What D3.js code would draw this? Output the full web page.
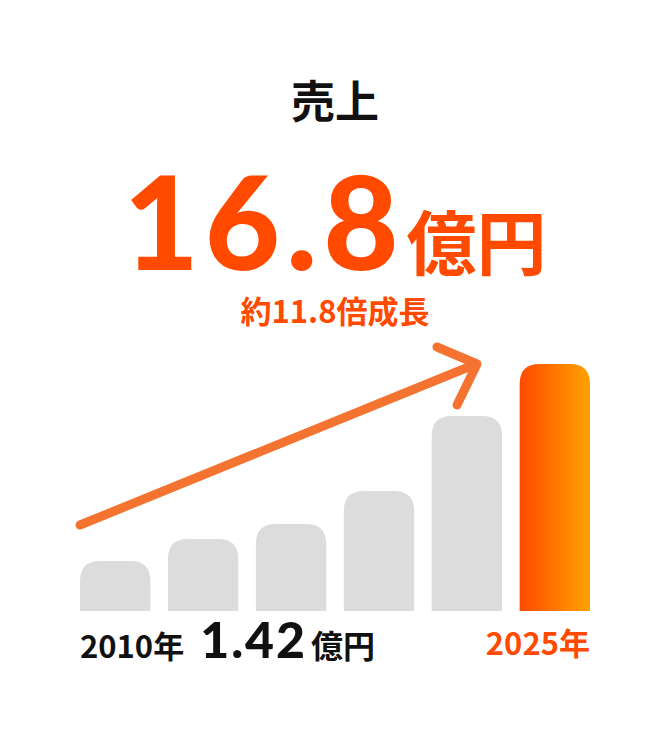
<!DOCTYPE html>
<html><head><meta charset="utf-8">
<script src="https://cdn.jsdelivr.net/npm/d3@7/dist/d3.min.js"></script>
<style>body{margin:0;background:#fff}text{font-family:"Noto Sans CJK JP","Noto Sans",sans-serif;font-weight:700}</style>
</head><body><svg id="c" width="670" height="748"></svg>
<script>
// bar heights are relative, years are the categories
const years = ["2010", "2013", "2016", "2019", "2022", "2025"];
const heights = [50, 72, 87, 120, 195, 247];
const startValue = "1.42";
const endValue = "16.8";
const growth = "約11.8倍成長";

const svg = d3.select("#c");
const x = d3.scaleBand().domain(years).range([80, 590]).paddingInner(0.2).paddingOuter(0);
const y = d3.scaleLinear().domain([0, 247]).range([611, 364]);

const grad = svg.append("defs").append("linearGradient").attr("id", "g");
grad.append("stop").attr("offset", "0%").attr("stop-color", "#ff4a00");
grad.append("stop").attr("offset", "100%").attr("stop-color", "#ffa200");

const r = 20;
svg.selectAll("path.bar").data(years).join("path").attr("class", "bar")
  .attr("d", (d, i) => {
    const x0 = x(d), w = x.bandwidth(), top = y(heights[i]), b = y(0);
    return `M${x0},${b}V${top + r}Q${x0},${top} ${x0 + r},${top}H${x0 + w - r}Q${x0 + w},${top} ${x0 + w},${top + r}V${b}Z`;
  })
  .attr("fill", (d, i) => i === years.length - 1 ? "url(#g)" : "#dcdcdc");

// arrow
const ac = "#f57330";
svg.append("line").attr("x1", 80).attr("y1", 525).attr("x2", 476).attr("y2", 364)
  .attr("stroke", ac).attr("stroke-width", 9).attr("stroke-linecap", "round");
svg.append("path").attr("d", "M437,347L477,364L457,405").attr("fill", "none")
  .attr("stroke", ac).attr("stroke-width", 9).attr("stroke-linecap", "round").attr("stroke-linejoin", "round");

svg.append("text").attr("x", 335).attr("y", 118).attr("text-anchor", "middle")
  .attr("font-size", 44).attr("fill", "#111").text("売上");

const big = svg.append("text").attr("x", 335).attr("y", 270).attr("text-anchor", "middle").attr("fill", "#ff4a00");
big.append("tspan").attr("font-size", 130).attr("font-family", "Lato, sans-serif").attr("font-weight", 900).attr("letter-spacing", 6).text(endValue);
big.append("tspan").attr("font-size", 70).attr("dx", 2).text("億円");

svg.append("text").attr("x", 335).attr("y", 323).attr("text-anchor", "middle")
  .attr("font-size", 31).attr("fill", "#ff4a00").text(growth);

const bl = svg.append("text").attr("x", 80).attr("y", 658).attr("fill", "#111");
bl.append("tspan").attr("font-size", 31).text(years[0] + "年");
bl.append("tspan").attr("dx", 16).attr("font-size", 50).attr("font-family", "Lato, sans-serif").attr("font-weight", 900).attr("letter-spacing", 2).text(startValue);
bl.append("tspan").attr("font-size", 32).attr("dx", 4).text("億円");

svg.append("text").attr("x", 590).attr("y", 655).attr("text-anchor", "end")
  .attr("font-size", 31).attr("fill", "#ff4a00").text(years[years.length - 1] + "年");
</script></body></html>
